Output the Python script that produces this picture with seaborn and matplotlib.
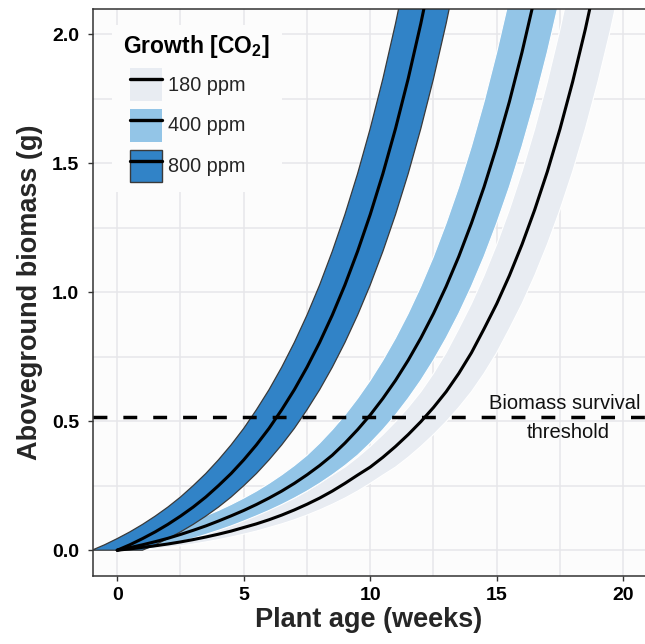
import numpy as np
import pandas as pd
import matplotlib
matplotlib.use("Agg")
import matplotlib.pyplot as plt
import seaborn as sns
from matplotlib.patches import Patch, Rectangle
from matplotlib.lines import Line2D
from matplotlib.ticker import MultipleLocator, FormatStrFormatter

# ---------------- data ----------------
levels = ["180 ppm", "400 ppm", "800 ppm"]

weeks_180 = np.arange(0, 19.01, 0.5)
biomass_180 = [0, 0.005, 0.011, 0.017, 0.024, 0.032, 0.041, 0.051, 0.062, 0.074,
               0.088, 0.102, 0.118, 0.136, 0.156, 0.178, 0.202, 0.229, 0.259, 0.291,
               0.322, 0.360, 0.402, 0.448, 0.498, 0.553, 0.614, 0.685, 0.765, 0.858,
               0.955, 1.064, 1.185, 1.319, 1.467, 1.632, 1.815, 2.018, 2.243]

weeks_400 = np.arange(0, 17.01, 0.5)
biomass_400 = [0, 0.010, 0.021, 0.033, 0.046, 0.061, 0.077, 0.094, 0.113, 0.133,
               0.154, 0.177, 0.202, 0.229, 0.259, 0.292, 0.328, 0.368, 0.415, 0.467,
               0.524, 0.588, 0.658, 0.736, 0.822, 0.917, 1.022, 1.138, 1.267, 1.408,
               1.565, 1.738, 1.930, 2.141, 2.375]

weeks_800 = np.arange(0, 13.01, 0.5)
biomass_800 = [0, 0.021, 0.045, 0.071, 0.100, 0.132, 0.167, 0.206, 0.250, 0.297,
               0.350, 0.408, 0.472, 0.544, 0.622, 0.709, 0.805, 0.911, 1.028, 1.158,
               1.301, 1.459, 1.634, 1.827, 2.041, 2.277, 2.538]

band_halfwidth_weeks = [1.0, 1.0, 1.0]   # uncertainty band: +/- weeks around each curve
survival_threshold = 0.515

x_ticks = [0, 5, 10, 15, 20]
y_ticks = [0.0, 0.5, 1.0, 1.5, 2.0]

# ---------------- styling ----------------
band_colors = ["#E8ECF2", "#93C5E7", "#3183C7"]
band_edges = ["white", "white", "#3A3A3A"]
band_edge_lw = [0.8, 0.8, 0.9]

sns.set_theme(style="whitegrid")
plt.rcParams.update({
    "font.family": ["Liberation Sans", "DejaVu Sans"],
    "mathtext.fontset": "custom",
    "mathtext.rm": "Liberation Sans",
    "mathtext.it": "Liberation Sans:italic",
    "mathtext.bf": "Liberation Sans:bold",
})

W, H = 645, 644
fig = plt.figure(figsize=(W / 100, H / 100), dpi=100)
fig.patch.set_facecolor("white")
ax = fig.add_axes([92.7 / W, (H - 576) / H, (W - 92.7) / W, (576 - 9) / H])
ax.set_facecolor("#FCFCFC")

series = [(weeks_180, biomass_180), (weeks_400, biomass_400), (weeks_800, biomass_800)]

# bands
for (wk, bm), hw, fc, ec, elw in zip(series, band_halfwidth_weeks, band_colors, band_edges, band_edge_lw):
    wk = np.asarray(wk, float)
    bm = np.asarray(bm, float)
    xs = np.concatenate([wk - hw, (wk + hw)[::-1]])
    ys = np.concatenate([bm, bm[::-1]])
    ax.fill(xs, ys, facecolor=fc, edgecolor=ec, linewidth=elw, zorder=2)

# center lines
df = pd.concat([pd.DataFrame({"week": wk, "biomass": bm, "co2": lv})
                for (wk, bm), lv in zip(series, levels)], ignore_index=True)
sns.lineplot(data=df, x="week", y="biomass", hue="co2", palette=["black"] * 3,
             linewidth=2.2, ax=ax, legend=False, zorder=4, sort=False)

# threshold
ax.axhline(survival_threshold, color="black", lw=2.5, dashes=(4.0, 4.6), zorder=5)
ax.text(17.68, 0.570, "Biomass survival", ha="center", va="center", fontsize=14.5, color="#111111")
ax.text(17.83, 0.457, "threshold", ha="center", va="center", fontsize=14.5, color="#111111")

# axes
ax.set_xlim(-0.97, 20.86)
ax.set_ylim(-0.1, 2.097)
ax.set_xticks(x_ticks)
ax.set_yticks(y_ticks)
ax.xaxis.set_minor_locator(MultipleLocator(2.5))
ax.yaxis.set_minor_locator(MultipleLocator(0.25))
ax.yaxis.set_major_formatter(FormatStrFormatter("%.1f"))
ax.grid(which="both", color="#E6E6EA", linewidth=1.1, zorder=0)
ax.set_axisbelow(True)

ax.tick_params(which="major", direction="out", length=3.6, width=1.0, color="#333333",
               labelsize=14, labelcolor="black", left=True, bottom=True)
ax.tick_params(axis="x", pad=4.0)
ax.tick_params(axis="y", pad=6.3)
ax.tick_params(which="minor", length=0)
for lbl in ax.get_xticklabels() + ax.get_yticklabels():
    lbl.set_fontweight("bold")

for s in ["left", "bottom", "top"]:
    ax.spines[s].set_visible(True)
    ax.spines[s].set_color("#333333")
    ax.spines[s].set_linewidth(1.1)
ax.spines["right"].set_visible(False)

ax.set_xlabel("Plant age (weeks)", fontsize=19.5, fontweight="bold")
ax.set_ylabel("Aboveground biomass (g)", fontsize=19.5, fontweight="bold")
ax.xaxis.set_label_coords(0.5, -0.0547)
ax.yaxis.set_label_coords(-0.09, 0.5)

# legend background box
ax.add_patch(Rectangle((112 / W, 1 - 192 / H), 170 / W, 167 / H, transform=fig.transFigure,
                       facecolor="#FCFCFC", edgecolor="none", zorder=1.5))
# legend title
fig.text(123 / W, 1 - 53 / H, "Growth [CO$_\\mathbf{2}$]", ha="left", va="baseline",
         fontsize=16.5, fontweight="bold", color="black", zorder=7)

# legend
handles = []
for fc, ec in zip(band_colors, ["none", "none", "#3A3A3A"]):
    handles.append((Patch(facecolor=fc, edgecolor=ec, linewidth=1.0),
                    Line2D([], [], color="black", linewidth=2.4)))
leg = ax.legend(handles, levels, loc="upper left",
                bbox_to_anchor=(130 / W, 1 - 68 / H), bbox_transform=fig.transFigure,
                frameon=False, fontsize=14.3,
                handlelength=1.62, handleheight=2.155, labelspacing=0.41,
                handletextpad=0.3, borderpad=0.0, borderaxespad=0.0)
leg.set_zorder(6)

fig.savefig("out.png", dpi=100)
